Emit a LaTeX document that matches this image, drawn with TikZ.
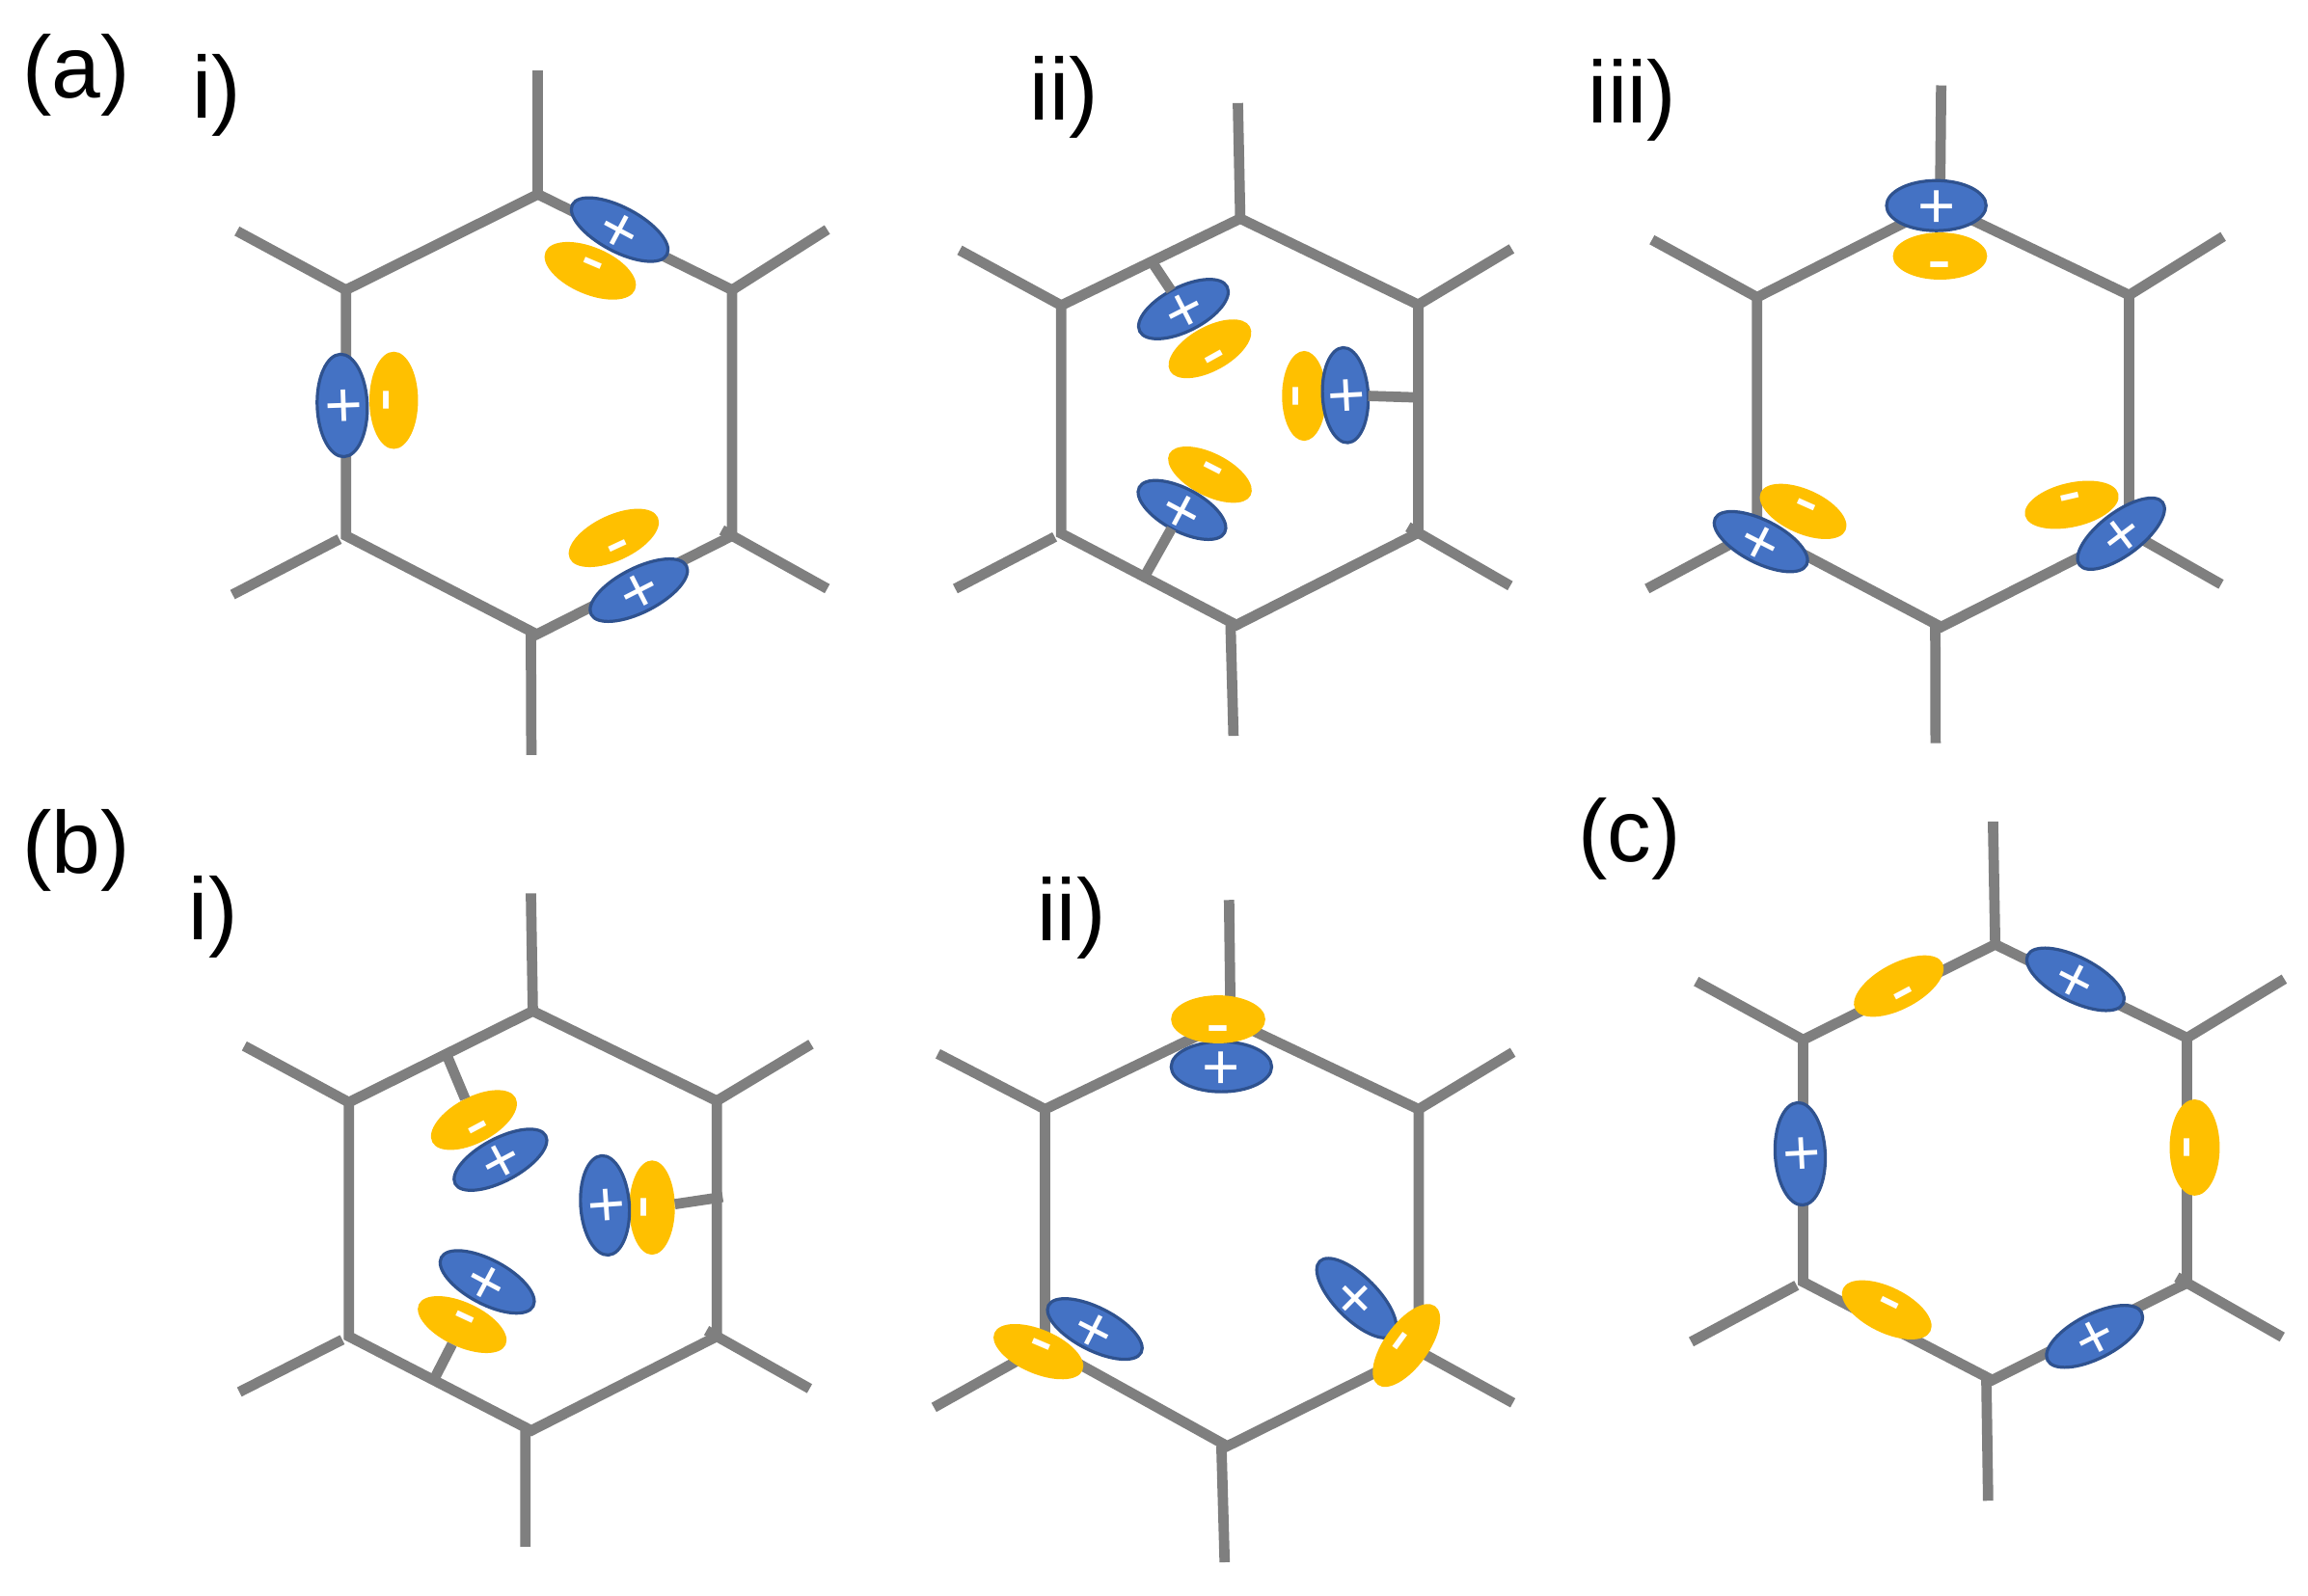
\documentclass[tikz,border=0pt]{standalone}
\usepackage{fontspec}
\setmainfont{Liberation Sans}
\usetikzlibrary{shapes.geometric}

\definecolor{bondgrey}{HTML}{7F7F7F}
\definecolor{lobeblue}{HTML}{4472C4}
\definecolor{lobeedge}{HTML}{2F528F}
\definecolor{lobeyellow}{HTML}{FFC000}

\tikzset{
    bond/.style={draw=bondgrey, line width=2pt},
    dims/.style 2 args={minimum width=#1*0.02cm, minimum height=#2*0.02cm},
    pluslobe/.style={ellipse, fill=lobeblue, draw=lobeedge, line width=0.6pt, inner sep=0pt, outer sep=0pt,
        text=white, font=\fontsize{12.5}{14}\selectfont},
    minuslobe/.style={ellipse, fill=lobeyellow, inner sep=0pt, outer sep=0pt,
        text=white, font=\fontsize{14}{16}\selectfont},
    tag/.style={inner sep=0pt, font=\fontsize{17}{20}\selectfont}
}

\newcommand{\signmark}[2]{\raisebox{#1}[0pt][0pt]{\makebox[0pt]{#2}}}
\newcommand{\plusmark}{\signmark{-4.4pt}{+}}
\newcommand{\minusup}{\signmark{-2.2pt}{-}}
\newcommand{\minusdown}{\signmark{-5.4pt}{-}}

\newcommand{\hexcell}[3]{
    \foreach \pt [count=\i] in {#2} {\path \pt coordinate (#1v\i);}
    \foreach \pt [count=\i] in {#3} {\path \pt coordinate (#1e\i);}
    \draw[bond] (#1v1) -- (#1v2) -- (#1v3) -- (#1v4) -- (#1v5) -- (#1v6) -- cycle;
    \foreach \i in {1,2,6} {\draw[bond] (#1v\i) -- (#1e\i);}
    \draw[bond] ([xshift=-0.04cm]#1v4) -- (#1e4);
    \draw[bond, shorten <=-0.08cm] (#1v3) -- (#1e3);
    \draw[bond, shorten <=0.05cm] (#1v5) -- (#1e5);
}

\begin{document}
\begin{tikzpicture}[x=0.01cm, y=-0.01cm]
    \useasboundingbox (0,0) rectangle (1568,1084);

    \node[tag] (la) at (52,51) {(a)};
    \node[tag] (lb) at (52,578) {(b)};
    \node[tag] (lc) at (1107,570) {(c)};
    \node[tag] (lai) at (147,65) {i)};
    \node[tag] (laii) at (723,66) {ii)};
    \node[tag] (laiii) at (1109,68) {iii)};
    \node[tag] (lbi) at (145,623) {i)};
    \node[tag] (lbii) at (728,624) {ii)};

    \hexcell{ai}{(365.5,132),(497.4,197),(497.4,364),(364.7,431),(235,364),(235,197)}
        {(365.5,48),(562,156),(562,400),(361,513),(158,404),(161,157)}
    \node[minuslobe, dims={33}{16}, rotate=-23] (aim1) at (401,184) {\minusup};
    \node[pluslobe, dims={36.3}{15}, rotate=-28] (aip1) at (421,156) {\plusmark};
    \node[minuslobe, dims={33}{16.5}, rotate=90] (aim2) at (267.5,272) {\minusup};
    \node[pluslobe, dims={34.8}{17}, rotate=92] (aip2) at (232.5,275.5) {\plusmark};
    \node[minuslobe, dims={33}{15.5}, rotate=25] (aim3) at (417,365.5) {\minusdown};
    \node[pluslobe, dims={36.3}{15}, rotate=27] (aip3) at (434,401) {\plusmark};

    \hexcell{aii}{(842.6,148.5),(963.5,207),(963.5,362),(840,424.7),(721,362.5),(721,207.5)}
        {(841,70),(1027,169),(1026,398),(838,500),(649,400),(652,170)}
    \node[minuslobe, dims={31}{15}, rotate=29] (aiim1) at (822,237) {\minusdown};
    \node[pluslobe, dims={33.3}{15}, rotate=27] (aiip1) at (804,210) {\plusmark};
    \node[minuslobe, dims={30.5}{15}, rotate=90] (aiim2) at (886,269) {\minusup};
    \node[pluslobe, dims={32.3}{15.5}, rotate=93] (aiip2) at (914,268.5) {\plusmark};
    \node[minuslobe, dims={31}{14.5}, rotate=-27] (aiim3) at (822,322.5) {\minusup};
    \node[pluslobe, dims={32.8}{14.5}, rotate=-28] (aiip3) at (803,346.5) {\plusmark};
    \coordinate (aiis1) at (784,180);
    \coordinate (aiis2) at (961,270);
    \coordinate (aiis3) at (778,391);
    \draw[bond] (aiip1) -- (aiis1);
    \draw[bond] (aiip2) -- (aiis2);
    \draw[bond] (aiip3) -- (aiis3);

    \hexcell{aiii}{(1318,139),(1446.5,200.5),(1446.5,361.5),(1318.8,426),(1193.7,360),(1193.7,202)}
        {(1318.8,58),(1510.4,160.7),(1509,397),(1315,505),(1119,400),(1122.3,162.9)}
    \node[minuslobe, dims={32}{16}] (aiiim1) at (1318,174) {\minusdown};
    \node[pluslobe, dims={33.8}{17}] (aiiip1) at (1315.5,139.7) {\plusmark};
    \node[minuslobe, dims={31.5}{15}, rotate=-24] (aiiim2) at (1225,347.5) {\minusup};
    \node[pluslobe, dims={34.8}{14.5}, rotate=-27] (aiiip2) at (1196.3,368) {\plusmark};
    \node[minuslobe, dims={32.5}{15}, rotate=13] (aiiim3) at (1407.5,343) {\minusup};
    \node[pluslobe, dims={35.3}{14.5}, rotate=37] (aiiip3) at (1441,362.6) {\plusmark};

    \hexcell{bi}{(362,687),(487,748),(487,908),(361,972),(237,908),(237,749)}
        {(360.7,607),(551,709.5),(550,943.5),(357,1051),(162.6,945.8),(166,710.7)}
    \node[minuslobe, dims={32}{15.5}, rotate=28] (bim1) at (322,761) {\minusdown};
    \node[pluslobe, dims={34.8}{14.5}, rotate=28] (bip1) at (340,788) {\plusmark};
    \node[minuslobe, dims={32}{15.5}, rotate=90] (bim2) at (443,820.5) {\minusup};
    \node[pluslobe, dims={33.8}{16.5}, rotate=94] (bip2) at (411,819) {\plusmark};
    \node[minuslobe, dims={32.5}{15}, rotate=-25] (bim3) at (314,900) {\minusup};
    \node[pluslobe, dims={35.3}{15}, rotate=-28] (bip3) at (331,871) {\plusmark};
    \coordinate (bis1) at (304,718);
    \coordinate (bis2) at (491,813.3);
    \coordinate (bis3) at (295,937);
    \draw[bond] (bim1) -- (bis1);
    \draw[bond] (bim2) -- (bis2);
    \draw[bond] (bim3) -- (bis3);

    \hexcell{bii}{(836,693),(963.8,753.7),(963.8,918),(833.8,982.6),(710,914),(710,753.7)}
        {(835,611.5),(1027.8,715),(1027.8,953.2),(832,1061.5),(634.5,956.3),(637.2,716)}
    \node[pluslobe, dims={34.1}{17}] (biip1) at (829.8,724.8) {\plusmark};
    \node[minuslobe, dims={32}{16.3}] (biim1) at (827.6,692.6) {\minusdown};
    \node[pluslobe, dims={35.3}{14.5}, rotate=-27] (biip2) at (743.8,903) {\plusmark};
    \node[minuslobe, dims={32.5}{15}, rotate=-23] (biim2) at (705.5,918.4) {\minusup};
    \node[pluslobe, dims={35.3}{14.5}, rotate=-45] (biip3) at (921.6,882) {\plusmark};
    \node[minuslobe, dims={33}{15}, rotate=54] (biim3) at (955.5,914.2) {\minusup};

    \hexcell{c}{(1355.5,641.7),(1485.8,705.2),(1485.8,871.7),(1353.5,937.7),(1225,871),(1225,706.5)}
        {(1354,558.2),(1551.9,665.2),(1550.5,908.5),(1350.7,1019.7),(1149,911.7),(1152.4,666.8)}
    \node[minuslobe, dims={33.5}{15.5}, rotate=28] (cm1) at (1290,670) {\minusdown};
    \node[pluslobe, dims={36.3}{15}, rotate=-27] (cp1) at (1410,665.4) {\plusmark};
    \node[pluslobe, dims={34.8}{17}, rotate=93] (cp2) at (1223,784) {\plusmark};
    \node[minuslobe, dims={32.7}{17}, rotate=90] (cm2) at (1491,779.7) {\minusup};
    \node[minuslobe, dims={33}{15.5}, rotate=-26] (cm3) at (1281.8,890) {\minusup};
    \node[pluslobe, dims={35.8}{15}, rotate=27] (cp3) at (1423,908) {\plusmark};
\end{tikzpicture}
\end{document}
